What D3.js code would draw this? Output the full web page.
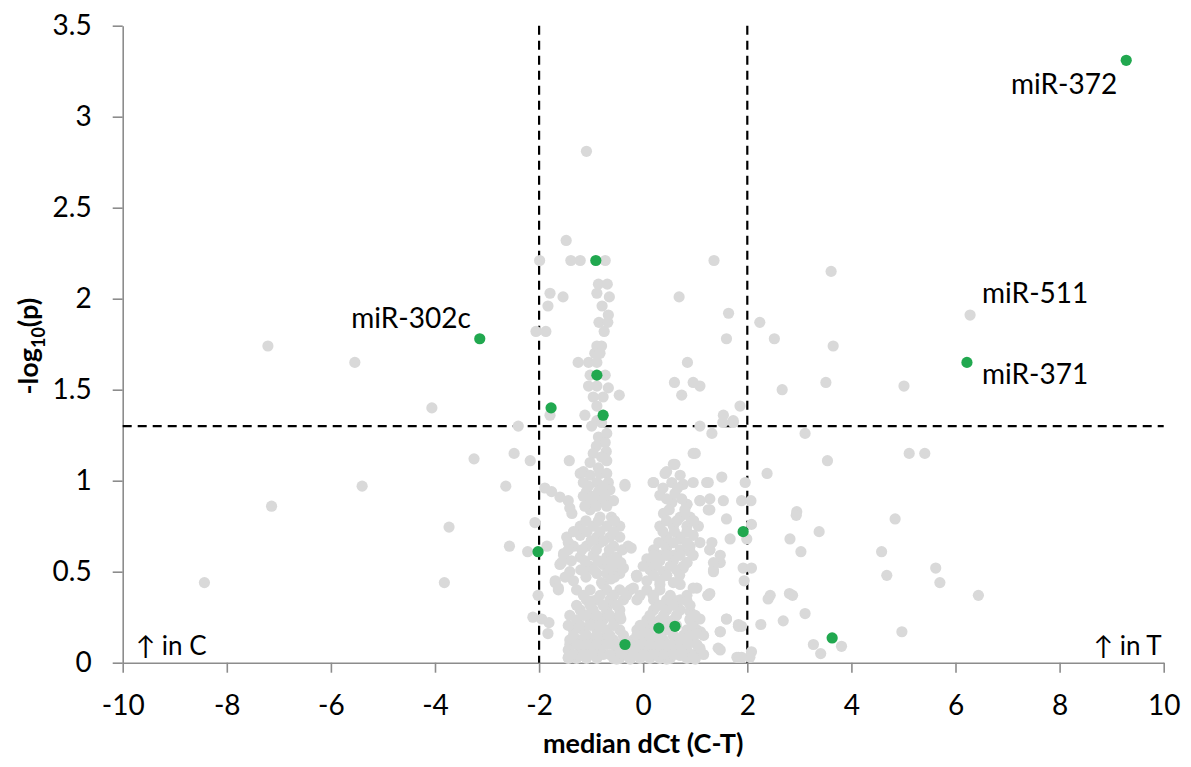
<!DOCTYPE html>
<html>
<head>
<meta charset="utf-8">
<script src="https://cdn.jsdelivr.net/npm/d3@7"></script>
<style>
  html, body { margin: 0; padding: 0; background: #fff; }
  svg { display: block; }
</style>
</head>
<body>
<svg id="chart" width="1191" height="767"></svg>
<script>
// ---------------- data ----------------
const xTicks = [-10, -8, -6, -4, -2, 0, 2, 4, 6, 8, 10];
const yTicks = [0, 0.5, 1, 1.5, 2, 2.5, 3, 3.5];
const foldCutoffs = [-2, 2];
const pCutoff = 1.3;

// gray (other) miRNAs: [median dCt, -log10 p]
const outerLeft = [
  [-8.43,0.44],[-7.21,1.74],[-7.14,0.86],[-5.54,1.65],[-5.40,0.97],[-4.06,1.40],
  [-3.73,0.745],[-3.82,0.44],[-3.25,1.12]
];
const upperColumn = [
  [-1.09,2.81],[-1.48,2.32],[-1.99,2.21],[-1.39,2.21],[-1.21,2.21],[-0.73,2.21],
  [-1.79,2.03],[-1.54,2.01],[-1.83,1.96],[-2.06,1.82],[-1.87,1.82],
  [-0.86,2.08],[-0.69,2.08],[-0.89,2.03],[-0.65,2.01],[-0.79,1.96],[-0.67,1.91],
  [-0.85,1.87],[-0.68,1.87],[-0.75,1.82],[-0.89,1.74],[-0.80,1.74],[-0.93,1.70],
  [-0.83,1.70],[-1.25,1.65],[-1.05,1.65],[-0.89,1.65],[-1.02,1.58],[-0.73,1.58],
  [-1.05,1.52],[-0.89,1.52],[-0.67,1.51],[-0.46,1.47],[-0.96,1.46],[-0.77,1.46],
  [-0.89,1.41],[-1.12,1.36],[-1.79,1.36],[-0.89,1.33]
];
const leftCluster = [
  [-0.99,1.30],[-0.80,1.32],[-0.70,1.26],[-0.86,1.24],[-0.73,1.21],[-0.90,1.19],
  [-0.96,1.15],[-0.71,1.16],[-0.80,1.13],[-0.70,1.11],[-1.02,1.10],[-0.86,1.07],
  [-1.15,1.05],[-1.21,1.04],[-1.02,1.03],[-0.83,1.04],[-0.70,1.04],[-1.15,0.99],
  [-0.89,0.99],[-0.67,0.99],[-0.35,0.98],[-1.09,0.94],[-0.86,0.94],[-0.64,0.95],
  [-1.02,0.89],[-0.80,0.89],[-0.57,0.89],
  [-1.89,0.96],[-1.76,0.94],[-1.60,0.91],[-1.44,0.89],[-1.41,0.85],[-1.37,0.82],
  [-1.02,0.84],[-0.83,0.80],[-0.61,0.80],[-1.21,0.75],[-0.96,0.75],[-0.70,0.75],
  [-0.45,0.75],[-1.47,0.69],[-1.21,0.70],[-0.89,0.69],[-0.64,0.69],[-0.45,0.69],
  [-1.34,0.64],[-1.09,0.64],[-0.83,0.66],[-0.57,0.64],[-0.29,0.64],[-1.53,0.60],
  [-1.21,0.58],[-0.96,0.59],[-0.70,0.58],[-0.51,0.58],[-1.57,0.55],[-1.02,0.53],
  [-0.77,0.54],[-0.57,0.53],[-0.38,0.52],[-1.41,0.50],[-0.89,0.49],[-0.70,0.49],
  [-0.45,0.49],[-1.69,0.45],[-1.34,0.45],[-1.63,0.40],[-1.28,0.40],[-0.80,0.44],
  [-0.13,0.48],[-1.42,1.11],
  [-2.40,1.30],[-2.48,1.15],[-2.17,1.11],[-2.64,0.97],[-2.08,0.77],[-2.57,0.64],
  [-2.22,0.61],[-1.85,0.64],[-2.02,0.37],[-2.12,0.25],[-1.95,0.24],[-1.81,0.22],
  [-1.83,0.16],
  [-1.69,0.44],[-1.63,0.41],[-1.53,0.59],[-1.60,0.54],[-1.44,0.66],[-1.02,0.52],
  [-0.77,0.43],[-0.96,0.34],[-1.15,0.26],[-1.28,0.19],[-1.41,0.10],[-1.44,0.03],
  [-1.21,0.04],[-1.09,0.15],[-0.89,0.23],[-0.77,0.12],[-0.70,0.30],[-0.96,0.06]
];
const leftFill = [
  [-1.05,0.97],[-0.78,0.97],[-1.15,0.915],[-0.95,0.915],[-0.73,0.915],
  [-1.12,0.86],[-0.90,0.86],[-0.70,0.86],[-1.10,0.78],[-0.86,0.78],[-0.55,0.78],
  [-1.34,0.72],[-1.08,0.72],[-0.83,0.72],[-0.57,0.72],[-1.00,0.67],[-0.76,0.67],
  [-1.44,0.62],[-1.18,0.62],[-0.90,0.62],[-0.65,0.62],[-0.40,0.62],
  [-1.38,0.56],[-1.12,0.56],[-0.86,0.56],[-0.62,0.56],[-1.20,0.51],[-0.95,0.51],
  [-0.60,0.51],[-1.50,0.47],[-1.10,0.47],[-0.55,0.47]
];
const bottomBlob = [
  [-1.02,0.40],[-0.70,0.40],[-0.45,0.40],[-0.25,0.40],[0.07,0.40],[0.32,0.40],
  [-1.09,0.345],[-0.89,0.345],[-0.64,0.345],[-0.38,0.345],[-0.12,0.345],[0.20,0.345],[0.45,0.345],[0.71,0.345],
  [-1.21,0.29],[-0.96,0.29],[-0.70,0.29],[-0.45,0.29],[0.20,0.29],[0.45,0.29],[0.71,0.29],
  [-1.28,0.235],[-1.02,0.235],[-0.77,0.235],[-0.57,0.235],[0.07,0.235],[0.32,0.235],[0.58,0.235],[0.90,0.235],
  [-1.34,0.18],[-1.15,0.18],[-0.89,0.18],[-0.70,0.18],[-0.45,0.18],[-0.12,0.18],[0.07,0.18],[0.45,0.18],[0.84,0.18],[1.03,0.18],
  [-1.41,0.125],[-1.21,0.125],[-0.96,0.125],[-0.77,0.125],[-0.57,0.125],[-0.19,0.125],[0.0,0.125],[0.20,0.125],[0.39,0.125],[0.71,0.125],[0.96,0.125],
  [-1.44,0.07],[-1.21,0.07],[-1.02,0.07],[-0.83,0.07],[-0.51,0.07],[-0.32,0.07],[-0.12,0.07],[0.07,0.07],[0.26,0.07],[0.45,0.07],[0.64,0.07],[0.84,0.07],[1.09,0.07],
  [-1.44,0.024],[-1.28,0.024],[-1.09,0.024],[-0.89,0.024],[-0.57,0.024],[-0.45,0.024],[-0.25,0.024],[-0.06,0.024],[0.13,0.024],[0.32,0.024],[0.52,0.024],[0.84,0.024],
  [1.25,0.37],[1.60,0.24],[1.48,0.17],[1.44,0.08],[1.83,0.20],[1.83,0.03],[1.03,0.41],
  [0.90,0.28],[1.10,0.17],[0.84,0.10],[1.0,0.02],[1.28,0.62],[1.48,0.55],[1.35,0.51],
  [1.09,0.66],[0.90,0.61],[0.77,0.52],[0.71,0.43],[0.64,0.34],[0.45,0.48],[0.32,0.43],
  [0.19,0.37],[-0.19,0.41],[-0.12,0.48],[0.32,0.59],[0.13,0.55],[0.45,0.66],
  [0.71,0.68],[0.84,0.55],[0.58,0.59],[-0.23,0.63],[-0.43,0.55],[-0.62,0.46],[-0.57,0.37],
  [-0.70,0.28],[-0.43,0.24],[0.0,0.15],[0.13,0.24],[0.45,0.23],[0.77,0.15],
  [0.58,0.10],[0.45,0.02],[0.19,0.06],[-0.06,0.04],[-0.25,0.02],[-0.57,0.10],[-0.70,0.17],
  [-0.51,0.02],[0.71,0.04]
];
const bottomFill = [
  [-1.15,0.37],[-0.83,0.37],[-0.57,0.37],[-0.32,0.37],[-0.06,0.37],[0.20,0.37],[0.52,0.37],[0.84,0.37],
  [-1.28,0.315],[-1.02,0.315],[-0.77,0.315],[-0.51,0.315],[0.32,0.315],[0.58,0.315],[0.90,0.315],
  [-1.41,0.26],[-1.09,0.26],[-0.89,0.26],[-0.64,0.26],[-0.45,0.26],[0.13,0.26],[0.39,0.26],[0.64,0.26],[1.00,0.26],
  [-1.44,0.205],[-1.21,0.205],[-1.02,0.205],[-0.83,0.205],[-0.57,0.205],[-0.06,0.205],[0.20,0.205],[0.39,0.205],[0.64,0.205],[0.96,0.205],
  [-1.34,0.15],[-1.09,0.15],[-0.89,0.15],[-0.64,0.15],[-0.38,0.15],[-0.12,0.15],[0.13,0.15],[0.32,0.15],[0.58,0.15],[0.90,0.15],[1.16,0.15],
  [-1.28,0.10],[-1.09,0.10],[-0.89,0.10],[-0.70,0.10],[-0.45,0.10],[-0.25,0.10],[-0.06,0.10],[0.13,0.10],[0.32,0.10],[0.52,0.10],[0.77,0.10],[1.03,0.10],
  [-1.34,0.045],[-1.15,0.045],[-0.96,0.045],[-0.77,0.045],[-0.64,0.045],[-0.38,0.045],[-0.19,0.045],[0.0,0.045],[0.19,0.045],[0.39,0.045],[0.58,0.045],[0.77,0.045],[0.96,0.045],[1.16,0.045]
];
const rightArm = [
  [0.58,1.09],[0.42,1.04],[0.71,1.03],[0.20,0.99],[0.55,0.99],[0.77,0.98],[0.96,0.99],
  [1.22,0.99],[0.96,1.15],[1.51,1.02],[0.32,0.92],[0.61,0.93],[0.55,0.88],[0.84,0.87],
  [1.09,0.89],[1.28,0.84],[0.39,0.82],[0.71,0.80],[0.90,0.80],[0.32,0.75],[0.58,0.75],
  [0.84,0.75],[1.06,0.75],[0.45,0.69],[0.71,0.69],[0.96,0.70],[0.20,0.62],[0.45,0.63],
  [0.71,0.62],[0.90,0.64],[0.07,0.57],[0.32,0.56],[0.58,0.56],[0.84,0.55],[0.13,0.51],
  [0.39,0.50],[0.64,0.51],[0.07,0.45],[0.32,0.45],[0.58,0.44],[-0.12,0.47],[1.28,0.90],
  [1.54,0.89],[1.60,0.79],[1.32,0.66],[1.67,0.68],[1.28,0.62],[1.48,0.59],[1.35,0.55],
  [1.35,0.50],[1.28,0.38],[0.96,0.41],[0.84,0.34],[0.90,0.24],[1.09,0.24],[1.03,0.16],
  [0.84,0.12],[1.09,0.08],[0.96,0.03],[1.48,0.07],[1.60,0.24],[1.48,0.17],[1.83,0.21],
  [1.80,0.03],[1.24,0.37],
  [1.09,1.30],[1.32,1.26],[1.0,1.15],[1.53,1.32],[1.73,1.32],[0.61,1.09],[0.45,1.05],
  [0.19,0.99],[-0.35,0.97],[1.25,0.99],[1.09,0.89],[0.84,0.87],[1.25,0.84],
  [1.54,1.36],[1.73,1.33],[1.86,1.41],[0.60,1.54],[0.96,1.54],[1.09,1.52],[0.74,1.47],
  [0.85,1.65],[0.69,2.01],[1.60,1.78],[1.64,1.92],[1.36,2.21]
];
const rightFill = [
  [0.38,0.96],[0.66,0.96],[0.45,0.90],[0.74,0.90],[0.50,0.84],[0.80,0.84],
  [0.45,0.78],[0.65,0.78],[0.97,0.78],[0.38,0.72],[0.60,0.72],[0.84,0.72],
  [0.30,0.66],[0.58,0.66],[0.84,0.66],[0.20,0.59],[0.45,0.59],[0.71,0.59],[0.96,0.59],
  [0.00,0.53],[0.26,0.53],[0.52,0.53],[0.77,0.53],[0.20,0.48],[0.45,0.48],[0.70,0.48]
];
const outerRight = [
  [3.61,2.15],[6.28,1.91],[3.65,1.74],[2.24,1.87],[2.52,1.78],[2.67,1.50],[3.51,1.54],
  [5.01,1.52],[3.11,1.26],[3.54,1.11],[5.11,1.15],[5.41,1.15],[2.38,1.04],[1.96,0.99],
  [2.07,0.89],[1.89,0.89],[2.95,0.83],[2.94,0.81],[2.08,0.76],[4.84,0.79],[3.38,0.72],
  [2.82,0.68],[1.99,0.68],[3.03,0.61],[4.58,0.61],[1.92,0.52],[2.08,0.52],[5.62,0.52],
  [1.94,0.45],[4.68,0.48],[5.70,0.44],[2.44,0.37],[2.40,0.35],[2.81,0.38],[2.87,0.37],
  [6.44,0.37],[3.11,0.27],[2.26,0.21],[2.69,0.23],[1.89,0.20],[4.97,0.17],[3.27,0.10],
  [3.81,0.09],[3.41,0.05],[2.08,0.06],[2.05,0.03],[1.89,0.03]
];

// highlighted (green) miRNAs
const highlightX = [9.28, 6.22, -3.14, -0.91, -0.89, -1.77, -0.77, -2.02, 1.92, -0.35, 0.30, 0.61, 3.63];
const highlightY = [3.31, 1.65, 1.78, 2.21, 1.58, 1.40, 1.36, 0.61, 0.72, 0.10, 0.19, 0.20, 0.136];

// labels
const labelNames = ["miR-372", "miR-511", "miR-371", "miR-302c"];
const labelX = [9.28, 6.28, 6.22, -3.14];
const labelY = [3.31, 1.91, 1.65, 1.78];

// ---------------- drawing ----------------
const W = 1191, H = 767;
const margin = { left: 122.7, right: 27.3, top: 25.7, bottom: 104.3 };
const svg = d3.select("#chart");
const FONT = "Lato, 'Open Sans', sans-serif";

const x = d3.scaleLinear().domain([-10, 10]).range([margin.left, W - margin.right]);
const y = d3.scaleLinear().domain([0, 3.5]).range([H - margin.bottom, margin.top]);

// axes
const axisColor = "#8c8c8c";
const xAxis = svg.append("g")
  .attr("transform", `translate(0,${y(0)})`)
  .call(d3.axisBottom(x).tickValues(xTicks).tickSize(10).tickSizeOuter(0).tickPadding(22).tickFormat(d => String(d)));
const yAxis = svg.append("g")
  .attr("transform", `translate(${x(-10)},0)`)
  .call(d3.axisLeft(y).tickValues(yTicks).tickSize(10).tickSizeOuter(0).tickPadding(21).tickFormat(d => String(d)));
[xAxis, yAxis].forEach(g => {
  g.select(".domain").attr("stroke", axisColor).attr("stroke-width", 1.6);
  g.selectAll(".tick line").attr("stroke", axisColor).attr("stroke-width", 1.6);
  g.selectAll(".tick text").attr("fill", "#000").style("font-family", FONT).style("font-size", "28px");
});

// threshold lines
const dash = "9,6";
svg.append("g").selectAll("line.v").data(foldCutoffs).join("line")
  .attr("x1", d => x(d)).attr("x2", d => x(d))
  .attr("y1", y(3.5)).attr("y2", y(0))
  .attr("stroke", "#000").attr("stroke-width", 2.2).attr("stroke-dasharray", dash);
svg.append("line")
  .attr("x1", x(-10)).attr("x2", x(10))
  .attr("y1", y(pCutoff)).attr("y2", y(pCutoff))
  .attr("stroke", "#000").attr("stroke-width", 2.2).attr("stroke-dasharray", dash);

// gray points
const grayPts = [].concat(outerLeft, upperColumn, leftCluster, leftFill, bottomBlob, bottomFill, rightArm, rightFill, outerRight);
svg.append("g").selectAll("circle").data(grayPts).join("circle")
  .attr("cx", d => x(d[0])).attr("cy", d => y(d[1])).attr("r", 5.6)
  .attr("fill", "#d9d9d9");

// green points
svg.append("g").selectAll("circle").data(highlightX.map((v, i) => [v, highlightY[i]])).join("circle")
  .attr("cx", d => x(d[0])).attr("cy", d => y(d[1])).attr("r", 5.6)
  .attr("fill", "#21a84f");

// labels
const labelOffsets = [[-9, 34, "end"], [12, -12, "start"], [15, 22, "start"], [-9, -11, "end"]];
svg.append("g").selectAll("text").data(labelNames).join("text")
  .attr("x", (d, i) => x(labelX[i]) + labelOffsets[i][0])
  .attr("y", (d, i) => y(labelY[i]) + labelOffsets[i][1])
  .attr("text-anchor", (d, i) => labelOffsets[i][2])
  .style("font-family", FONT).style("font-size", "28px").attr("fill", "#000")
  .text(d => d);

// corner annotations
svg.append("text").attr("x", x(-10) + 13).attr("y", y(0) - 8)
  .style("font-family", FONT).style("font-size", "26px").attr("fill", "#000")
  .text("↑ in C");
svg.append("text").attr("x", x(10) - 2).attr("y", y(0) - 8).attr("text-anchor", "end")
  .style("font-family", FONT).style("font-size", "26px").attr("fill", "#000")
  .text("↑ in T");

// axis titles
svg.append("text")
  .attr("x", (x(-10) + x(10)) / 2).attr("y", 753).attr("text-anchor", "middle")
  .style("font-family", FONT).style("font-size", "27px").style("font-weight", "bold")
  .text("median dCt (C-T)");
const yt = svg.append("text")
  .attr("transform", `translate(38,${(y(0) + y(3.5)) / 2 + 2}) rotate(-90)`)
  .attr("text-anchor", "middle")
  .style("font-family", FONT).style("font-size", "27px").style("font-weight", "bold");
yt.append("tspan").text("-log");
yt.append("tspan").attr("dy", 7).style("font-size", "18px").text("10");
yt.append("tspan").attr("dy", -7).text("(p)");
</script>
</body>
</html>
